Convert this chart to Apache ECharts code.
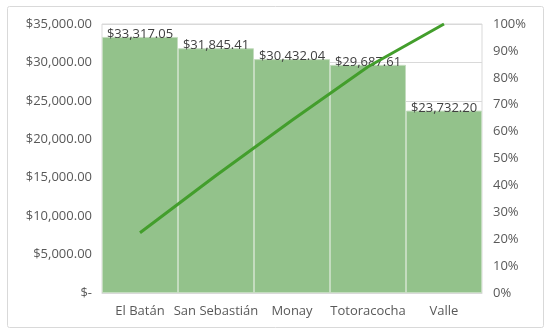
<!DOCTYPE html>
<html><head><meta charset="utf-8">
<script src="https://cdn.jsdelivr.net/npm/echarts@6/dist/echarts.min.js"></script>
<style>html,body{margin:0;padding:0;background:#fff}#c{width:550px;height:334px}</style>
</head><body><div id="c"></div>
<script>
var categories = ['El Batán', 'San Sebastián', 'Monay', 'Totoracocha', 'Valle'];
var amounts = [33317.05, 31845.41, 30432.04, 29687.61, 23732.20];
var cumulativePct = [22.4, 43.7, 64.2, 84.1, 100];
var leftTicks = {min: 0, max: 35000, interval: 5000};
var rightTicks = {min: 0, max: 100, interval: 10};

function money(v){
  if (v === 0) return '$-';
  return '$' + v.toLocaleString('en-US', {minimumFractionDigits: 2, maximumFractionDigits: 2});
}
var font = 'Open Sans';
var chart = echarts.init(document.getElementById('c'), null, {renderer: 'canvas'});
chart.setOption({
  animation: false,
  textStyle: {fontFamily: font},
  graphic: [{type: 'rect', shape: {x: 7.5, y: 6.5, width: 536, height: 321, r: 2}, style: {fill: 'none', stroke: '#d9d9d9', lineWidth: 1}, z: -1}],
  grid: {left: 102, right: 68, top: 24, bottom: 41, show: true, borderColor: '#d9d9d9', borderWidth: 1},
  xAxis: {type: 'category', data: categories,
    axisLine: {show: true, lineStyle: {color: '#d9d9d9'}}, axisTick: {show: false},
    axisLabel: {color: '#595959', fontSize: 13, margin: 12, interval: 0, fontFamily: font}},
  yAxis: [
    {type: 'value', min: leftTicks.min, max: leftTicks.max, interval: leftTicks.interval,
     axisLine: {show: false}, axisTick: {show: false},
     splitLine: {lineStyle: {color: '#d9d9d9'}},
     axisLabel: {color: '#595959', fontSize: 13, margin: 10, formatter: money, fontFamily: font}},
    {type: 'value', min: rightTicks.min, max: rightTicks.max, interval: rightTicks.interval,
     axisLine: {show: false}, axisTick: {show: false}, splitLine: {show: false},
     axisLabel: {color: '#595959', fontSize: 13, margin: 11, formatter: function(v){return v + '%';}, fontFamily: font}}
  ],
  series: [
    {type: 'bar', data: amounts, barCategoryGap: 0, yAxisIndex: 0,
     itemStyle: {color: '#93c28b', borderColor: '#c4dcbf', borderWidth: 1},
     label: {show: true, position: 'top', distance: -4, color: '#404040', fontSize: 13, fontFamily: font,
       formatter: function(p){return money(p.value);}}},
    {type: 'line', data: cumulativePct, yAxisIndex: 1, symbol: 'none',
     lineStyle: {color: '#439e2c', width: 3}, z: 5}
  ]
});
</script></body></html>
